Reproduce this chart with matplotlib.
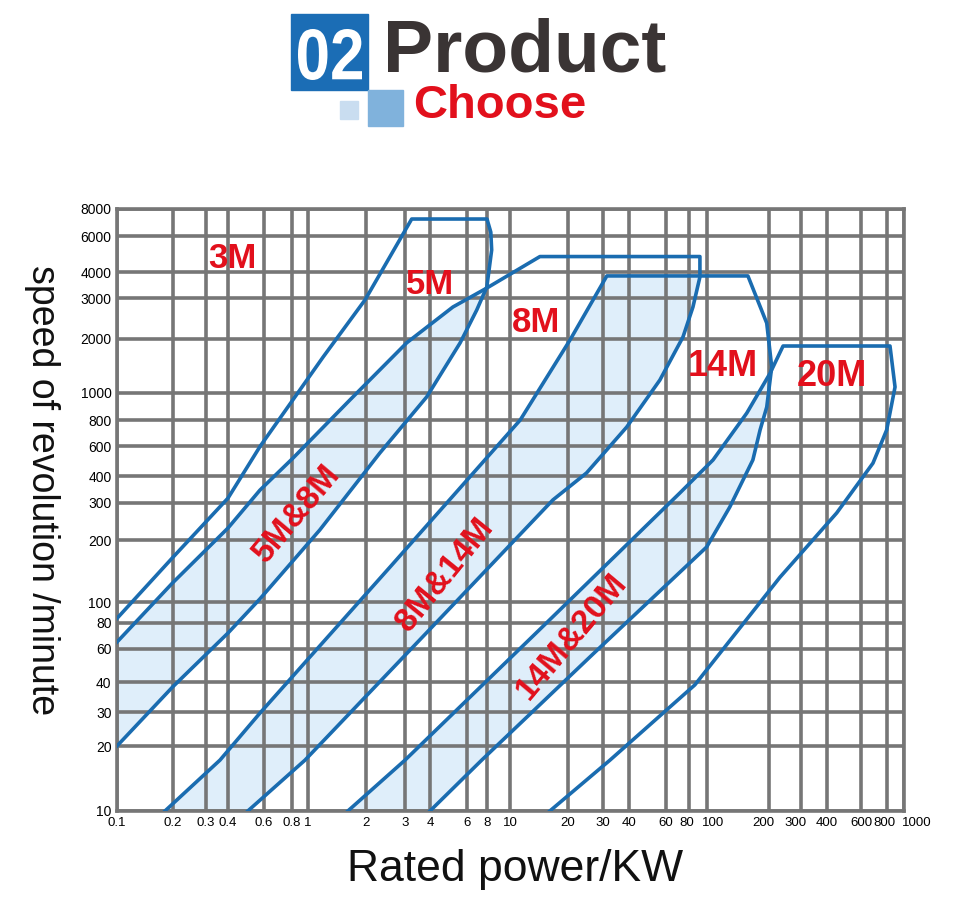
import numpy as np
import matplotlib
matplotlib.use("Agg")
import matplotlib.pyplot as plt
from matplotlib.patches import Rectangle, PathPatch
from matplotlib.textpath import TextPath
from matplotlib.font_manager import FontProperties
from matplotlib import transforms

# ---------------- data ----------------
x_ticks = [0.1, 0.2, 0.3, 0.4, 0.6, 0.8, 1, 2, 3, 4, 6, 8, 10, 20, 30, 40, 60, 80, 100,
           200, 300, 400, 600, 800, 1000]
x_tick_labels = ["0.1", "0.2", "0.3", "0.4", "0.6", "0.8", "1", "2", "3", "4", "6", "8", "10",
                 "20", "30", "40", "60", "80", "100", "200", "300", "400", "600", "800", "1000"]
y_ticks = [10, 20, 30, 40, 60, 80, 100, 200, 300, 400, 600, 800, 1000, 2000, 3000, 4000, 6000, 8000]
y_tick_labels = [str(v) for v in y_ticks]

# 3M outline / 5M right arc / 5M&8M lower edge
l1_x = [0.1, 0.2, 0.4, 0.573, 1.197, 1.98, 3.24, 8.0, 8.3, 8.37, 7.98, 6.9, 5.56, 3.85, 2.31, 1.15, 0.573, 0.4, 0.2, 0.1]
l1_y = [84, 164, 316, 595, 1585, 2950, 7190, 7190, 6250, 5125, 3390, 2663, 1900, 968, 546, 223, 103.5, 71.6, 38.1, 20]
# 5M&8M upper edge + 8M outline + 8M&14M lower edge
l2_x = [0.1, 0.2, 0.4, 0.573, 0.817, 1.65, 3.06, 5.14, 7.98, 14.3, 91.6, 91.6, 84, 74.2, 56.1, 39, 24.8, 16.7, 3.96, 0.96, 0.50]
l2_y = [64.8, 123.7, 228, 344, 510, 944, 1905, 2744, 3350, 4760, 4760, 3785, 2744, 2040, 1181, 740, 417, 310, 74, 17.2, 10]
# 8M&14M upper edge + 14M outline + 14M&20M lower edge
l3_x = [0.182, 0.36, 0.573, 2.57, 11.3, 20.5, 31.3, 158, 195, 207, 195, 181, 167, 129, 99.6, 27, 7.41, 4]
l3_y = [10, 17.2, 29.6, 148, 800, 1980, 3830, 3830, 2340, 1397, 890, 716, 497, 287, 185, 57, 17.2, 10]
# 14M&20M upper edge + 20M outline
l4_x = [1.61, 3, 14.7, 71.4, 107, 156, 203, 239, 832, 889, 797, 685, 449, 230, 86, 32.4, 16.1]
l4_y = [10, 17.2, 76.5, 334, 497, 847, 1292, 1828, 1828, 1080, 716, 476, 269, 132, 38.9, 17.2, 10]

band_a_x = [0.1, 0.2, 0.4, 0.573, 0.817, 1.65, 3.06, 5.14, 7.98, 7.98, 6.9, 5.56, 3.85, 2.31, 1.15, 0.573, 0.4, 0.2, 0.1]
band_a_y = [64.8, 123.7, 228, 344, 510, 944, 1905, 2744, 3350, 3390, 2663, 1900, 968, 546, 223, 103.5, 71.6, 38.1, 20]
band_b_x = [0.182, 0.36, 0.573, 2.57, 11.3, 20.5, 31.3, 91.6, 84, 74.2, 56.1, 39, 24.8, 16.7, 3.96, 0.96, 0.50]
band_b_y = [10, 17.2, 29.6, 148, 800, 1980, 3830, 3830, 2744, 2040, 1181, 740, 417, 310, 74, 17.2, 10]
band_c_x = [1.61, 3, 14.7, 71.4, 107, 156, 205, 195, 181, 167, 129, 99.6, 27, 7.41, 4]
band_c_y = [10, 17.2, 76.5, 334, 497, 847, 1340, 890, 716, 497, 287, 185, 57, 17.2, 10]

# ---------------- scale (chart grid is hand-spaced) ----------------
x_grid_px = [117, 172.5, 206, 228, 264, 291.5, 308, 366, 405, 430, 467, 487, 510, 568, 603, 629,
             666, 689, 707, 769, 801, 827, 861, 887, 904]
y_grid_px = [811, 746, 712, 682, 649, 623, 602, 540, 503, 476, 446, 420, 393, 339, 298, 272, 236, 209]
xl = np.log10(x_ticks)
yl = np.log10(y_ticks)
xp = np.array(x_grid_px, float)
yp = 811 - np.array(y_grid_px, float)


def fx(v):
    return np.interp(np.log10(np.clip(v, 1e-9, None)), xl, xp)


def ix(p):
    return 10 ** np.interp(p, xp, xl)


def fy(v):
    return np.interp(np.log10(np.clip(v, 1e-9, None)), yl, yp)


def iy(p):
    return 10 ** np.interp(p, yp, yl)


W, H = 960, 911
fig = plt.figure(figsize=(9.6, 9.11), dpi=100)
ax = fig.add_axes([117 / W, 1 - 811 / H, (904 - 117) / W, (811 - 209) / H])
ax.set_xscale('function', functions=(fx, ix))
ax.set_yscale('function', functions=(fy, iy))
ax.set_xlim(0.1, 1000)
ax.set_ylim(10, 8000)

blue = '#1a6cb0'
fill = '#dfeefa'
grey = '#767676'
red = '#e2101c'

for bx, by in [(band_a_x, band_a_y), (band_b_x, band_b_y), (band_c_x, band_c_y)]:
    ax.fill(bx, by, color=fill, lw=0, zorder=0.5)
for lx, ly in [(l1_x, l1_y), (l2_x, l2_y), (l3_x, l3_y), (l4_x, l4_y)]:
    ax.plot(lx, ly, color=blue, lw=2.6, zorder=3, solid_joinstyle='round')

ax.set_xticks(x_ticks)
ax.set_xticklabels(x_tick_labels, fontsize=9.5, family='Liberation Sans')
ax.set_yticks(y_ticks)
ax.set_yticklabels(y_tick_labels, fontsize=10, family='Liberation Sans')
ax.minorticks_off()
ax.tick_params(length=0, pad=4)
ax.grid(True, color=grey, lw=2.6, zorder=1)
ax.set_axisbelow(True)
for s in ax.spines.values():
    s.set_color(grey)
    s.set_linewidth(2.6)

# label nudges like the reference
nudge = {"80": -2, "100": 6, "800": -3, "1000": 13, "300": -5, "200": -6}
for t in ax.get_xticklabels():
    d = nudge.get(t.get_text(), 0)
    if d:
        t.set_transform(t.get_transform() + transforms.ScaledTranslation(d / 100, 0, fig.dpi_scale_trans))


def ftext(px, py, s, **kw):
    fig.text(px / W, 1 - py / H, s, **kw)


lab = dict(color=red, fontweight='bold', family='Liberation Sans', ha='center', va='center')
ftext(232, 258, '3M', fontsize=25, **lab)
ftext(430, 284, '5M', fontsize=25, **lab)
ftext(536, 322, '8M', fontsize=25, **lab)
ftext(723, 367, '14M', fontsize=26, **lab)
ftext(832, 376, '20M', fontsize=26, **lab)
ftext(297, 514, '5M&8M', fontsize=24, rotation=50, **lab)
ftext(445, 575, '8M&14M', fontsize=24, rotation=51, **lab)
ftext(572, 637, '14M&20M', fontsize=24, rotation=50, **lab)

ftext(42, 490, 'speed of revolution /minute', fontsize=27, rotation=270,
      ha='center', va='center', family='Liberation Sans', color='#111111')
ftext(515, 870, 'Rated power/KW', fontsize=32, ha='center', va='center',
      family='Liberation Sans', color='#111111')

# header
fig.patches.append(Rectangle((291 / W, 1 - 90 / H), 77 / W, 76 / H, transform=fig.transFigure,
                             color='#1b6db5', zorder=1))
fig.patches.append(Rectangle((340 / W, 1 - 119 / H), 18 / W, 18 / H, transform=fig.transFigure,
                             color='#c9ddf0', zorder=1))
fig.patches.append(Rectangle((368 / W, 1 - 126 / H), 35 / W, 36 / H, transform=fig.transFigure,
                             color='#80b2dc', zorder=1))
tp = TextPath((0, 0), '02', size=50, prop=FontProperties(family='Liberation Sans', weight='bold'))
bb = tp.get_extents()
x0, x1, top, bot = 298, 362, 29, 80
tr = (transforms.Affine2D().translate(-bb.x0, -bb.y0)
      .scale((x1 - x0) / bb.width, (bot - top) / bb.height)
      .translate(x0, H - bot))
fig.patches.append(PathPatch(tp, transform=tr + transforms.IdentityTransform(),
                             color='white', lw=0, zorder=2))
ftext(383, 52, 'Product', fontsize=54, color='#3a3434', fontweight='bold',
      family='Liberation Sans', ha='left', va='center')
ftext(413, 106, 'Choose', fontsize=34, color=red, fontweight='bold',
      family='Liberation Sans', ha='left', va='center')

fig.savefig('out.png', dpi=100, facecolor='white')
